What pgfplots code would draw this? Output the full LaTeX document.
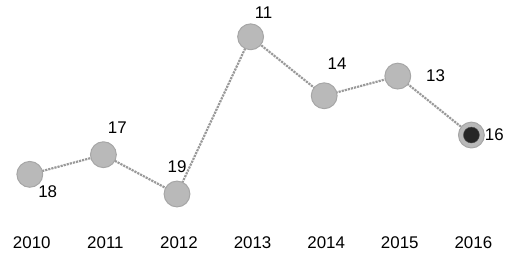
\documentclass[border=0pt]{standalone}
\usepackage{pgfplots}
\pgfplotsset{compat=1.18}
\usepackage{fontspec}
\setmainfont{Liberation Sans}
\begin{document}
\begin{tikzpicture}
\begin{axis}[
  scale only axis, width=507pt, height=265pt,
  at={(0pt,0pt)}, anchor=south west,
  xmin=-0.405, xmax=6.446,
  y dir=reverse, ymin=9.127, ymax=22.54,
  axis line style={draw=none}, tick style={draw=none},
  ytick=\empty,
  xtick={0,1,2,3,4,5,6},
  xticklabels={2010,2011,2012,2013,2014,2015,2016},
  xticklabel style={anchor=center, yshift=21pt, xshift=2pt, font=\fontsize{17}{19}\selectfont},
  clip=false,
]
\addplot[gray!80, line width=2.2pt, densely dotted,
  mark=*, mark size=13pt, mark options={solid, fill=gray!55, draw=gray!70, line width=1pt},
  nodes near coords, point meta=explicit symbolic,
  visualization depends on={\thisrow{dx}\as\dx},
  visualization depends on={\thisrow{dy}\as\dy},
  nodes near coords style={anchor=center, xshift=\dx pt, yshift=\dy pt, text=black, font=\fontsize{17}{19}\selectfont},
] table[meta=lab] {
x y lab dx dy
0 18 18 18 -17
1 17 17 14 27
2 19 19 0 27
3 11 11 13 24
4 14 14 13 32
5 13 13 38 0
6 16 16 23 0
};
\addplot[only marks, mark=*, mark size=8pt, mark options={fill=black!85, draw=black!70}] coordinates {(6,16)};
\end{axis}
\end{tikzpicture}
\end{document}
